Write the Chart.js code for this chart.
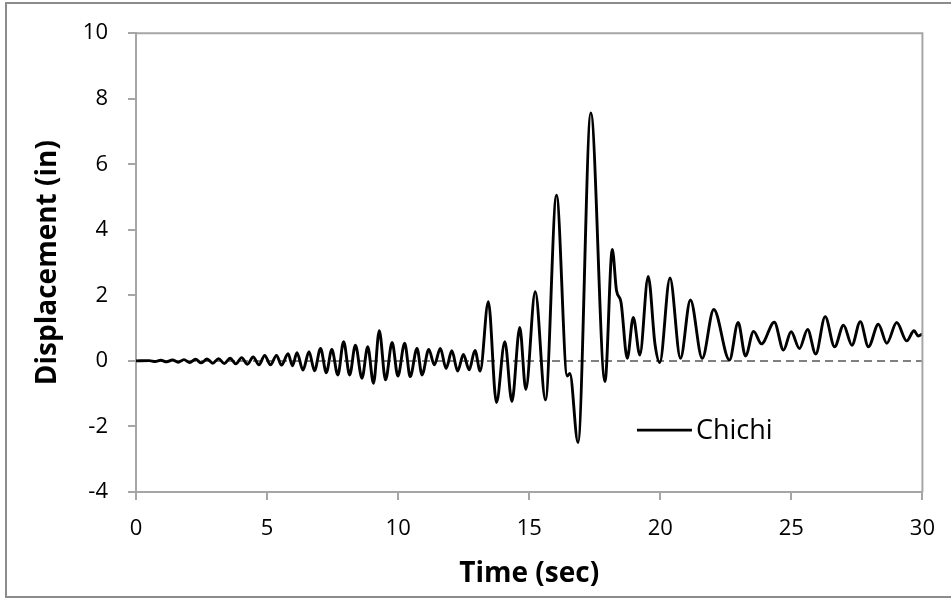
<!DOCTYPE html>
<html>
<head>
<meta charset="utf-8">
<script src="https://cdn.jsdelivr.net/npm/chart.js@4.4.1/dist/chart.umd.min.js"></script>
<style>
  html, body { margin: 0; padding: 0; background: #fff; }
  #wrap { width: 951px; height: 600px; position: relative; }
</style>
</head>
<body>
<div id="wrap"><canvas id="dispChart"></canvas></div>
<script>
// values (peaks / troughs of the trace)
const timeSec = [
    0, 0.51, 0.73, 0.95, 1.17, 1.39, 1.61, 1.83, 2.05, 2.27, 2.49, 2.71, 2.93, 3.15, 3.37, 3.59,
    3.81, 4.03, 4.25, 4.47, 4.69, 4.91, 5.13, 5.36, 5.55, 5.80, 5.97, 6.14, 6.37, 6.60, 6.81, 7.04,
    7.26, 7.47, 7.70, 7.92, 8.15, 8.37, 8.62, 8.84, 9.06, 9.28, 9.52, 9.77, 9.99, 10.25, 10.46, 10.72,
    10.91, 11.17, 11.38, 11.61, 11.83, 12.05, 12.27, 12.49, 12.71, 12.93, 13.13, 13.44, 13.75, 14.07,
    14.34, 14.64, 14.87, 15.23, 15.62, 16.04, 16.45, 16.55, 16.86, 17.35, 17.89, 18.17, 18.33, 18.50,
    18.74, 18.97, 19.22, 19.54, 19.80, 19.98, 20.37, 20.77, 21.15, 21.60, 22.04, 22.64, 22.97, 23.25,
    23.56, 23.86, 24.35, 24.70, 24.99, 25.31, 25.62, 25.93, 26.29, 26.65, 26.99, 27.31, 27.63, 27.94,
    28.32, 28.64, 29.02, 29.40, 29.68, 29.84, 30.00
];
const dispIn = [
    0, 0.01, -0.02, 0.02, -0.03, 0.03, -0.04, 0.04, -0.05, 0.05, -0.06, 0.06, -0.07, 0.07, -0.08, 0.08,
    -0.09, 0.10, -0.10, 0.12, -0.12, 0.17, -0.12, 0.17, -0.13, 0.22, -0.15, 0.25, -0.28, 0.28, -0.30, 0.38,
    -0.36, 0.35, -0.43, 0.59, -0.43, 0.48, -0.53, 0.43, -0.68, 0.92, -0.58, 0.56, -0.46, 0.54, -0.48, 0.38,
    -0.43, 0.35, -0.12, 0.38, -0.23, 0.31, -0.31, 0.20, -0.27, 0.32, -0.31, 1.81, -1.27, 0.59,
    -1.24, 1.02, -0.87, 2.11, -1.19, 5.06, -0.46, -0.38, -2.49, 7.57, -0.63, 3.40, 2.15, 1.80,
    0.08, 1.33, 0.18, 2.58, 0.50, -0.05, 2.53, 0.08, 1.86, 0.08, 1.57, 0.03, 1.17, 0.15,
    0.90, 0.52, 1.18, 0.33, 0.89, 0.38, 0.96, 0.21, 1.35, 0.43, 1.09, 0.48, 1.20, 0.43,
    1.12, 0.54, 1.17, 0.61, 0.92, 0.76, 0.82
];
const zeroLineX = [0, 30];
const zeroLineY = [0, 0];
const xTicks = [0, 5, 10, 15, 20, 25, 30];
const yTicks = [-4, -2, 0, 2, 4, 6, 8, 10];
const seriesName = "Chichi";

const AXIS_GRAY = "#a6a6a6";
const FONT = "'Open Sans', 'DejaVu Sans', sans-serif";

const toPoints = (xs, ys) => xs.map((x, i) => ({ x: x, y: ys[i] }));

// outer frame + plot-area box + legend drawn inside the plot
const framePlugin = {
    id: "frame",
    beforeDraw(chart) {
        const ctx = chart.ctx;
        ctx.save();
        ctx.fillStyle = "#fff";
        ctx.fillRect(0, 0, chart.width, chart.height);
        ctx.strokeStyle = "#8c8c8c";
        ctx.lineWidth = 2;
        ctx.strokeRect(6, 3, chart.width + 10, chart.height - 6);
        ctx.restore();
    },
    afterDraw(chart) {
        const ctx = chart.ctx;
        const a = chart.chartArea;
        ctx.save();
        ctx.strokeStyle = AXIS_GRAY;
        ctx.lineWidth = 2;
        ctx.beginPath();
        ctx.moveTo(a.left, a.top);
        ctx.lineTo(a.right, a.top);
        ctx.lineTo(a.right, a.bottom);
        ctx.stroke();
        // legend entry
        const lx = a.left + (a.right - a.left) * 0.637;
        const ly = a.top + (a.bottom - a.top) * 0.865;
        ctx.strokeStyle = "#000";
        ctx.lineWidth = 2.8;
        ctx.beginPath();
        ctx.moveTo(lx, ly);
        ctx.lineTo(lx + 55, ly);
        ctx.stroke();
        ctx.fillStyle = "#000";
        ctx.font = "27px " + FONT;
        ctx.textBaseline = "middle";
        ctx.fillText(seriesName, lx + 59, ly + 1);
        ctx.restore();
    }
};

new Chart(document.getElementById("dispChart"), {
    type: "scatter",
    data: {
        datasets: [
            {
                label: seriesName,
                data: toPoints(timeSec, dispIn),
                showLine: true,
                borderColor: "#000",
                borderWidth: 2.9,
                pointRadius: 0,
                cubicInterpolationMode: "monotone",
                order: 1,
            },
            {
                label: "zero",
                data: toPoints(zeroLineX, zeroLineY),
                showLine: true,
                borderColor: "#808080",
                borderWidth: 2,
                borderDash: [8, 5],
                pointRadius: 0,
                order: 2,
            },
        ],
    },
    options: {
        responsive: true,
        maintainAspectRatio: false,
        animation: false,
        layout: { padding: { left: 31, right: 27, top: 33, bottom: 9 } },
        plugins: {
            legend: { display: false },
            tooltip: { enabled: false },
        },
        scales: {
            x: {
                type: "linear",
                min: 0,
                max: 30,
                afterBuildTicks: (scale) => { scale.ticks = xTicks.map(v => ({ value: v })); },
                afterFit: (scale) => { scale.height = 600 - 9 - 492; },
                ticks: { color: "#000", font: { family: FONT, size: 22 }, padding: 16, maxRotation: 0 },
                grid: { drawOnChartArea: false, drawTicks: true, tickLength: 8, color: AXIS_GRAY, lineWidth: 2 },
                border: { color: AXIS_GRAY, width: 2 },
                title: {
                    display: true,
                    text: "Time (sec)",
                    color: "#000",
                    font: { family: FONT, size: 28, weight: "bold" },
                    padding: { top: 0, bottom: 0 },
                },
            },
            y: {
                min: -4,
                max: 10,
                afterBuildTicks: (scale) => { scale.ticks = yTicks.map(v => ({ value: v })); },
                afterFit: (scale) => { scale.width = 136 - 31; },
                ticks: { color: "#000", font: { family: FONT, size: 22 }, padding: 20 },
                grid: { drawOnChartArea: false, drawTicks: true, tickLength: 8, color: AXIS_GRAY, lineWidth: 2 },
                border: { color: AXIS_GRAY, width: 2 },
                title: {
                    display: true,
                    text: "Displacement (in)",
                    color: "#000",
                    font: { family: FONT, size: 28, weight: "bold" },
                    padding: { top: 0, bottom: 0 },
                },
            },
        },
    },
    plugins: [framePlugin],
});
</script>
</body>
</html>
